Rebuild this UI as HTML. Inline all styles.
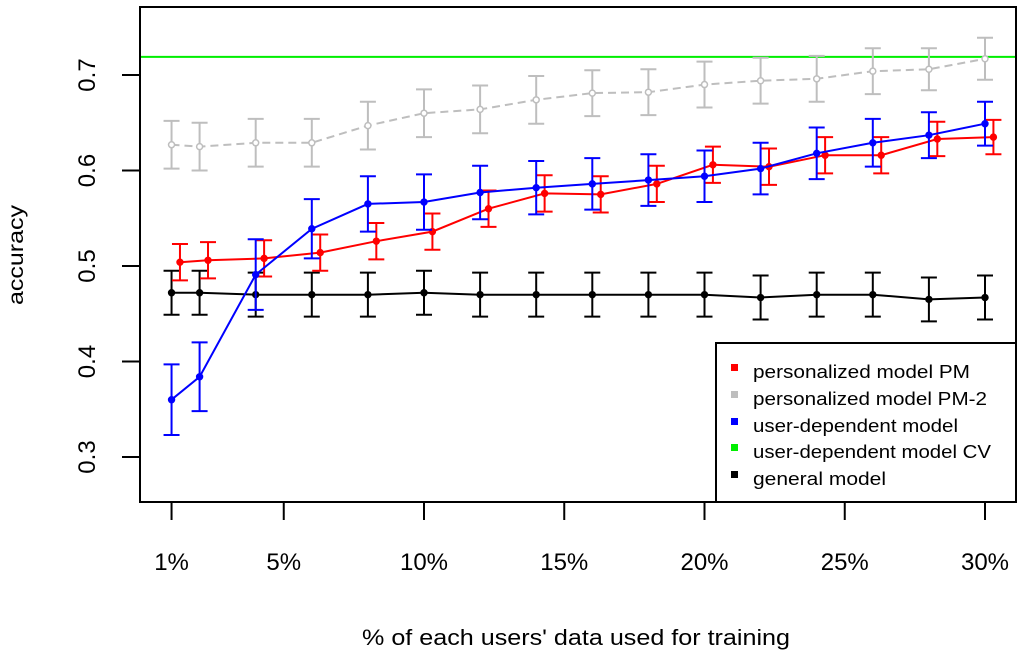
<!DOCTYPE html>
<html><head><meta charset="utf-8"><style>
html,body{margin:0;padding:0;background:#fff;}
svg{display:block;font-family:"Liberation Sans",Arial,sans-serif;}
</style></head><body>
<svg id="chart" width="1024" height="659" viewBox="0 0 1024 659">
<rect x="0" y="0" width="1024" height="659" fill="#fff"/>
<g id="marks"></g>
<rect x="140" y="7" width="876" height="495" fill="none" stroke="#000" stroke-width="2"/>
<g id="axes"></g>
<text x="576" y="645" font-size="22" text-anchor="middle" textLength="428" lengthAdjust="spacingAndGlyphs">% of each users' data used for training</text>
<text transform="translate(23,255) rotate(-90)" font-size="21" text-anchor="middle" textLength="100" lengthAdjust="spacingAndGlyphs">accuracy</text>
<g>
<rect x="716" y="343" width="300" height="159" fill="#fff" stroke="#000" stroke-width="2"/>
<rect x="731" y="364" width="7" height="7" fill="#ff0000"/>
<text x="753" y="378" font-size="18" textLength="217" lengthAdjust="spacingAndGlyphs">personalized model PM</text>
<rect x="731" y="391" width="7" height="7" fill="#bebebe"/>
<text x="753" y="405" font-size="18" textLength="234" lengthAdjust="spacingAndGlyphs">personalized model PM-2</text>
<rect x="731" y="418" width="7" height="7" fill="#0000ff"/>
<text x="753" y="432" font-size="18" textLength="205" lengthAdjust="spacingAndGlyphs">user-dependent model</text>
<rect x="731" y="444" width="7" height="7" fill="#00ee00"/>
<text x="753" y="458" font-size="18" textLength="238" lengthAdjust="spacingAndGlyphs">user-dependent model CV</text>
<rect x="731" y="471" width="7" height="7" fill="#000"/>
<text x="753" y="485" font-size="18" textLength="133" lengthAdjust="spacingAndGlyphs">general model</text>
</g>
</svg>
<script>
const xs = [1,2,4,6,8,10,12,14,16,18,20,22,24,26,28,30];
const pm = [0.504,0.506,0.508,0.514,0.526,0.536,0.560,0.576,0.575,0.586,0.606,0.604,0.616,0.616,0.633,0.635];
const pmErr = [0.019,0.019,0.019,0.019,0.019,0.019,0.019,0.019,0.019,0.019,0.019,0.019,0.019,0.019,0.018,0.018];
const pm2 = [0.627,0.625,0.629,0.629,0.647,0.660,0.664,0.674,0.681,0.682,0.690,0.694,0.696,0.704,0.706,0.717];
const pm2Err = [0.025,0.025,0.025,0.025,0.025,0.025,0.025,0.025,0.024,0.024,0.024,0.024,0.024,0.024,0.022,0.022];
const ud = [0.360,0.384,0.491,0.539,0.565,0.567,0.577,0.582,0.586,0.590,0.594,0.602,0.618,0.629,0.637,0.649];
const udErr = [0.037,0.036,0.037,0.031,0.029,0.029,0.028,0.028,0.027,0.027,0.027,0.027,0.027,0.025,0.024,0.023];
const gen = [0.472,0.472,0.470,0.470,0.470,0.472,0.470,0.470,0.470,0.470,0.470,0.467,0.470,0.470,0.465,0.467];
const genErr = [0.023,0.023,0.023,0.023,0.023,0.023,0.023,0.023,0.023,0.023,0.023,0.023,0.023,0.023,0.023,0.023];
const cvLevel = 0.719;
const xTicks = [1,5,10,15,20,25,30];
const xTickLabels = ["1%","5%","10%","15%","20%","25%","30%"];
const yTicks = [0.3,0.4,0.5,0.6,0.7];
const yTickLabels = ["0.3","0.4","0.5","0.6","0.7"];

const NS = "http://www.w3.org/2000/svg";
function X(v){ return 424 + (v - 10) * 28.05; }
function Y(v){ return 266 - (v - 0.5) * 955; }
function mk(tag, attrs, parent){
  const e = document.createElementNS(NS, tag);
  for (const k in attrs) e.setAttribute(k, attrs[k]);
  parent.appendChild(e); return e;
}
const marks = document.getElementById('marks');
const axes = document.getElementById('axes');

const cv = mk('line', {x1:141, x2:1015, y1:Y(cvLevel), y2:Y(cvLevel), stroke:'#00ee00', 'stroke-width':2}, marks);



function series(name, vals, errs, color, dx, dash, hollow){
  const g = mk('g', {}, marks);
  
  
  const pts = vals.map((v,i)=>X(xs[i]+dx).toFixed(1)+','+Y(v).toFixed(1)).join(' ');
  const pl = mk('polyline', {points:pts, fill:'none', stroke:color, 'stroke-width':2}, g);
  if (dash) pl.setAttribute('stroke-dasharray', dash);
  
  
  vals.forEach((v,i)=>{
    const x = X(xs[i]+dx), y1 = Y(v+errs[i]), y2 = Y(v-errs[i]);
    const p = mk('path', {d:`M${x},${y1}V${y2}M${x-8},${y1}H${x+8}M${x-8},${y2}H${x+8}`, stroke:color, 'stroke-width':2, fill:'none'}, g);
    
    
    const c = mk('circle', {cx:x, cy:Y(v), r:hollow?3:3.2, fill:hollow?'#fff':color, stroke:color, 'stroke-width':hollow?1.5:1}, g);
    
    
  });
}
series('general-model', gen, genErr, '#000', 0, null, false);
series('personalized-pm2', pm2, pm2Err, '#bebebe', 0, '8,5', true);
series('personalized-pm', pm, pmErr, '#ff0000', 0.3, null, false);
series('user-dependent', ud, udErr, '#0000ff', 0, null, false);

xTicks.forEach((t,i)=>{
  const l = mk('line', {x1:X(t), x2:X(t), y1:502, y2:520, stroke:'#000', 'stroke-width':2}, axes);
  
  
  const tx = mk('text', {x:X(t), y:570, 'font-size':24, 'text-anchor':'middle'}, axes);
  tx.textContent = xTickLabels[i];
  
  
});
yTicks.forEach((t,i)=>{
  const l = mk('line', {x1:122, x2:140, y1:Y(t), y2:Y(t), stroke:'#000', 'stroke-width':2}, axes);
  
  
  const tx = mk('text', {transform:`translate(95,${Y(t)}) rotate(-90)`, 'font-size':24, 'text-anchor':'middle'}, axes);
  tx.textContent = yTickLabels[i];
  
  
});
</script>
</body></html>
